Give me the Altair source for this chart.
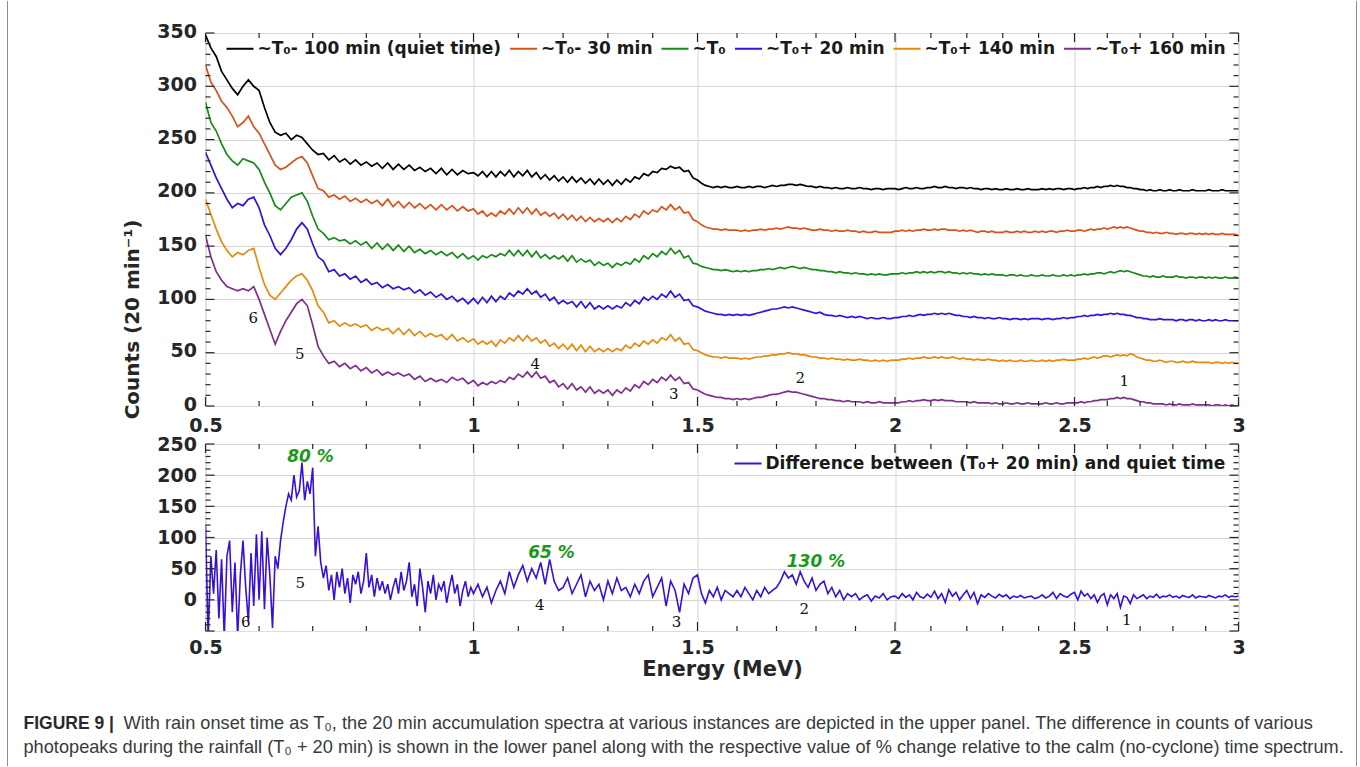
import altair as alt
import pandas as pd

# ---------------- data ----------------
energy = [round(0.50 + 0.01 * i, 2) for i in range(251)]

quiet = [
 348, 336, 328, 314, 306, 298, 292, 300, 306, 300,
 296, 280, 266, 257, 254, 256, 250, 254, 252, 246,
 240, 236, 237, 231, 235, 229, 232, 227, 231, 226,
 229, 225, 228, 223, 228, 222, 227, 222, 226, 221,
 224, 220, 223, 218, 223, 217, 222, 217, 221, 218,
 219, 216, 220, 215, 220, 215, 220, 216, 221, 215,
 220, 216, 221, 215, 219, 213, 217, 212, 216, 211,
 215, 210, 215, 210, 214, 209, 213, 208, 213, 208,
 212, 207, 212, 208, 213, 210, 215, 213, 218, 216,
 220, 219, 223, 222, 225, 223, 224, 220, 221, 214,
 212, 209, 207, 206, 205, 206, 205, 206, 205, 205,
 206, 205, 205, 206, 205, 206, 206, 205, 206, 207,
 206, 207, 207, 208, 208, 207, 208, 207, 206, 206,
 205, 206, 205, 205, 204, 205, 204, 204, 205, 204,
 204, 205, 204, 204, 203, 204, 204, 203, 204, 204,
 204, 203, 204, 205, 204, 204, 205, 204, 204, 205,
 205, 206, 205, 205, 206, 205, 205, 204, 205, 205,
 204, 205, 204, 204, 203, 204, 204, 203, 204, 203,
 203, 204, 203, 203, 204, 203, 203, 204, 203, 203,
 203, 204, 203, 204, 203, 204, 204, 203, 204, 204,
 203, 204, 204, 205, 204, 205, 205, 206, 205, 206,
 206, 207, 206, 207, 206, 206, 205, 205, 204, 204,
 203, 203, 202, 203, 202, 202, 203, 202, 202, 203,
 202, 202, 203, 202, 202, 202, 203, 202, 202, 202,
 202, 203, 202, 202, 202, 203, 202, 202, 202, 202, 202]

t_minus30 = [
 320, 304, 296, 286, 280, 272, 262, 266, 272, 262,
 256, 246, 236, 226, 222, 224, 228, 232, 234, 228,
 216, 204, 202, 196, 198, 194, 197, 192, 195, 191,
 194, 190, 193, 188, 194, 187, 192, 186, 191, 186,
 190, 185, 189, 184, 189, 184, 188, 183, 187, 183,
 185, 180, 183, 178, 181, 178, 183, 180, 185, 180,
 186, 181, 186, 180, 185, 179, 182, 178, 181, 176,
 180, 175, 179, 174, 178, 173, 177, 173, 176, 173,
 176, 172, 176, 173, 178, 175, 180, 177, 183, 180,
 184, 182, 187, 184, 189, 184, 187, 181, 182, 175,
 173, 170, 168, 167, 166, 166, 165, 166, 165, 165,
 165, 164, 165, 164, 165, 165, 166, 165, 166, 166,
 167, 166, 167, 168, 167, 167, 166, 167, 166, 165,
 165, 166, 165, 165, 164, 165, 164, 164, 165, 164,
 164, 163, 164, 163, 163, 164, 163, 163, 163, 163,
 164, 164, 165, 164, 165, 164, 165, 165, 166, 165,
 165, 166, 165, 166, 166, 165, 165, 165, 164, 165,
 164, 165, 164, 163, 164, 164, 163, 164, 163, 163,
 163, 164, 163, 163, 164, 163, 164, 163, 163, 164,
 163, 164, 163, 164, 164, 163, 164, 164, 165, 164,
 164, 165, 165, 164, 165, 166, 165, 166, 166, 167,
 166, 167, 168, 167, 168, 167, 168, 167, 166, 165,
 164, 164, 163, 163, 162, 163, 162, 162, 163, 162,
 162, 161, 162, 162, 161, 162, 162, 161, 162, 161,
 162, 161, 162, 161, 161, 162, 161, 161, 161, 161, 160]

t_zero = [
 285, 266, 258, 246, 236, 230, 226, 232, 230, 228,
 222, 210, 200, 188, 184, 190, 196, 198, 200, 192,
 178, 166, 162, 156, 158, 155, 156, 152, 155, 151,
 154, 148, 153, 147, 152, 146, 151, 145, 150, 144,
 147, 143, 146, 142, 145, 141, 144, 139, 143, 138,
 141, 137, 141, 139, 142, 140, 143, 141, 146, 141,
 146, 141, 146, 140, 145, 139, 142, 138, 141, 138,
 141, 136, 141, 135, 138, 135, 137, 132, 135, 132,
 134, 130, 134, 132, 135, 133, 138, 135, 141, 138,
 143, 140, 145, 142, 148, 143, 146, 139, 141, 134,
 133, 131, 130, 129, 128, 128, 127, 128, 127, 126,
 127, 126, 127, 126, 127, 127, 128, 128, 129, 128,
 129, 130, 129, 130, 131, 130, 129, 130, 129, 128,
 128, 127, 127, 126, 126, 125, 126, 125, 125, 124,
 125, 124, 124, 123, 124, 123, 124, 123, 123, 124,
 124, 124, 125, 124, 125, 125, 126, 125, 126, 125,
 126, 125, 126, 126, 125, 126, 125, 125, 124, 125,
 124, 125, 124, 124, 123, 124, 123, 124, 123, 123,
 123, 122, 123, 123, 122, 123, 122, 122, 123, 122,
 122, 123, 122, 122, 123, 122, 122, 123, 122, 123,
 122, 123, 123, 124, 123, 124, 124, 125, 125, 124,
 125, 126, 125, 126, 127, 126, 127, 126, 125, 124,
 123, 122, 122, 121, 122, 121, 121, 122, 121, 121,
 121, 122, 121, 121, 120, 121, 121, 120, 121, 121,
 120, 121, 120, 121, 120, 120, 121, 120, 120, 121, 120]

t_plus20 = [
 238, 226, 214, 204, 194, 186, 190, 188, 194, 196,
 186, 170, 160, 148, 142, 148, 156, 166, 172, 166,
 152, 140, 136, 126, 128, 122, 124, 119, 122, 116,
 119, 114, 116, 111, 114, 110, 112, 109, 111, 106,
 109, 104, 107, 102, 105, 100, 103, 98, 101, 96,
 101, 96, 102, 97, 103, 98, 103, 100, 106, 103,
 108, 105, 110, 105, 108, 102, 105, 99, 102, 96,
 99, 96, 98, 93, 98, 92, 97, 91, 94, 91,
 94, 91, 94, 92, 97, 94, 99, 96, 102, 99,
 103, 100, 105, 102, 108, 102, 105, 99, 100, 94,
 93, 91, 89, 88, 87, 86, 86, 85, 86, 85,
 86, 85, 86, 85, 86, 87, 88, 89, 90, 91,
 91, 92, 93, 92, 93, 92, 91, 90, 89, 88,
 87, 88, 86, 85, 85, 84, 85, 84, 83, 84,
 83, 84, 83, 82, 83, 82, 82, 83, 82, 82,
 83, 83, 84, 84, 85, 84, 85, 86, 85, 86,
 86, 87, 86, 87, 86, 87, 86, 85, 85, 84,
 84, 83, 84, 83, 83, 82, 83, 82, 82, 83,
 82, 82, 81, 82, 82, 81, 82, 81, 82, 82,
 82, 81, 82, 82, 81, 82, 82, 83, 82, 83,
 83, 84, 84, 85, 84, 85, 85, 86, 85, 86,
 86, 87, 86, 87, 86, 86, 85, 85, 84, 83,
 83, 82, 82, 81, 81, 81, 82, 81, 81, 81,
 81, 80, 81, 81, 80, 81, 81, 80, 81, 80,
 80, 81, 80, 81, 80, 80, 81, 80, 80, 80, 80]

t_plus140 = [
 194, 180, 166, 154, 146, 140, 144, 142, 146, 148,
 130, 114, 104, 100, 106, 112, 118, 122, 124, 118,
 108, 94, 88, 78, 80, 75, 78, 75, 77, 74,
 76, 71, 74, 71, 73, 68, 73, 67, 72, 66,
 70, 65, 68, 65, 67, 62, 67, 61, 64, 60,
 63, 58, 61, 58, 61, 56, 62, 59, 64, 61,
 66, 61, 66, 61, 64, 59, 62, 56, 59, 54,
 58, 53, 58, 52, 57, 51, 56, 51, 54, 51,
 54, 51, 54, 52, 57, 54, 59, 56, 61, 58,
 62, 59, 64, 62, 67, 61, 64, 58, 59, 53,
 52, 50, 48, 47, 46, 46, 45, 46, 45, 45,
 45, 44, 45, 44, 45, 46, 46, 47, 47, 48,
 48, 49, 49, 50, 49, 49, 48, 48, 47, 46,
 46, 45, 45, 44, 45, 44, 44, 43, 44, 43,
 43, 44, 43, 43, 42, 43, 42, 43, 42, 43,
 43, 43, 44, 44, 45, 44, 45, 45, 46, 45,
 45, 46, 45, 46, 45, 45, 46, 45, 44, 45,
 44, 44, 43, 44, 43, 43, 44, 43, 43, 42,
 43, 42, 43, 42, 42, 43, 42, 42, 43, 42,
 42, 43, 42, 43, 42, 43, 43, 44, 43, 43,
 43, 44, 44, 45, 44, 45, 46, 45, 46, 47,
 47, 46, 47, 48, 47, 48, 47, 49, 48, 46,
 45, 44, 43, 43, 42, 42, 43, 42, 41, 42,
 42, 41, 41, 42, 41, 41, 42, 41, 41, 41,
 41, 41, 40, 41, 41, 40, 41, 40, 41, 40, 40]

t_plus160 = [
 160, 140, 126, 118, 112, 110, 108, 110, 108, 112,
 100, 86, 72, 58, 70, 80, 88, 96, 100, 94,
 76, 56, 47, 40, 42, 37, 40, 35, 38, 33,
 36, 31, 34, 29, 32, 29, 31, 28, 30, 25,
 28, 23, 26, 23, 25, 22, 27, 24, 26, 21,
 24, 19, 22, 20, 23, 21, 24, 22, 27, 25,
 30, 27, 32, 27, 32, 26, 28, 22, 24, 18,
 21, 16, 21, 15, 18, 13, 18, 12, 15, 12,
 15, 10, 15, 12, 17, 14, 20, 17, 23, 20,
 25, 22, 27, 24, 29, 24, 27, 21, 22, 16,
 15, 13, 11, 10, 9, 8, 8, 7, 7, 6,
 7, 6, 7, 6, 7, 8, 8, 9, 10, 11,
 11, 12, 13, 14, 13, 13, 12, 11, 10, 9,
 8, 7, 7, 6, 6, 5, 5, 4, 5, 4,
 4, 4, 3, 4, 3, 3, 4, 3, 3, 3,
 3, 3, 4, 4, 5, 4, 5, 5, 6, 5,
 5, 6, 5, 6, 5, 5, 5, 4, 4, 4,
 4, 3, 4, 3, 3, 3, 3, 2, 3, 2,
 2, 3, 2, 2, 3, 2, 2, 3, 2, 2,
 2, 2, 3, 2, 2, 3, 2, 2, 3, 3,
 3, 3, 4, 3, 4, 4, 5, 5, 6, 6,
 6, 7, 7, 8, 7, 8, 7, 7, 6, 5,
 4, 4, 3, 3, 2, 2, 2, 2, 1, 2,
 1, 1, 2, 1, 1, 1, 2, 1, 1, 1,
 1, 1, 0, 1, 1, 0, 1, 0, 1, 0, 0]

diff_energy = ([round(0.500 + 0.005 * i, 3) for i in range(100)]
               + [round(1.00 + 0.01 * i, 2) for i in range(201)])

difference = [
 120, -60, 70, 10, 80, -30, 65, -60, 70, 95,
 -20, 60, -60, 40, 95, 20, -35, 75, -10, 105,
 0, 110, -15, 100, 40, -45, 70, 50, 95, 125,
 150, 170, 160, 200, 165, 175, 220, 160, 190, 170,
 212, 70, 118, 60, 35, 55, 15, 40, 0, 45,
 20, 50, 10, 35, -5, 40, 25, 45, 10, 30,
 75, 20, 40, 5, 35, 15, 30, 10, 25, 0,
 20, 35, 10, 45, 15, 30, 60, 5, 25, -10,
 50, 20, -20, 30, 10, 40, 0, 25, 15, 30,
 -5, 20, 40, 10, 25, -10, 15, 30, 5, 20,
 10, 25, 5, 20, -5, 15, 30, 10, 45, 20,
 40, 55, 30, 50, 35, 60, 25, 65, 30, 15,
 20, 35, 10, 25, 40, 5, 30, 15, 25, 0,
 30, 10, 35, 15, 20, 5, 25, 10, 30, 40,
 5, 20, 35, -10, 30, 15, -20, 25, 10, 35,
 40, 10, -5, 15, 5, 20, 0, 15, 10, 5,
 15, 5, 20, 10, 0, 15, 5, 20, 10, 15,
 20, 30, 45, 35, 40, 25, 45, 30, 20, 35,
 15, 25, 30, 10, 20, 5, 15, 0, 10, 5,
 10, 0, 5, 8, -2, 6, 3, 10, 0, 5,
 6, 2, 10, 4, 8, 0, 12, 5, 3, 9,
 4, 14, 2, 10, -4, 16, 6, 12, 0, 8,
 15, 2, 12, -6, 8, 4, 10, 6, 3, 9,
 5, 8, 2, 6, 4, 7, 3, 5, 6, 2,
 4, 8, 3, 6, 12, 2, 10, 6, 4, 9,
 12, 0, 14, 6, 10, 2, 8, -4, 6, 10,
 -8, 8, 2, 10, -12, 6, 4, -6, 8, 2,
 5, 8, 2, 6, 4, 9, 3, 6, 5, 8,
 4, 6, 3, 7, 5, 4, 8, 3, 6, 5,
 4, 7, 5, 3, 6, 5, 8, 4, 6, 5, 6]

series_names = ["~T\u2080- 100 min (quiet time)", "~T\u2080- 30 min", "~T\u2080",
                "~T\u2080+ 20 min", "~T\u2080+ 140 min", "~T\u2080+ 160 min"]
series_colors = ["#000000", "#d95319", "#178a17", "#3810d8", "#e8890c", "#7e2f8e"]
series_values = [quiet, t_minus30, t_zero, t_plus20, t_plus140, t_plus160]

diff_name = "Difference between (T\u2080+ 20 min) and quiet time"
diff_color = "#3810d8"

# photopeak markers
peak_labels = ["1", "2", "3", "4", "5", "6"]
peak_e_upper = [2.652, 1.76, 1.447, 1.138, 0.676, 0.589]
peak_y_upper = [23, 26, 11, 39, 49, 83]
peak_e_lower = [2.659, 1.77, 1.453, 1.148, 0.677, 0.575]
peak_y_lower = [-32, -14, -35, -8, 27, -35]

pct_labels = ["80 %", "65 %", "130 %"]
pct_e = [0.696, 1.174, 1.80]
pct_y = [229, 75, 61]

# axis ticks
x_major = [0.5, 1.0, 1.5, 2.0, 2.5, 3.0]
x_minor = [0.6, 0.7, 0.8, 0.9, 1.1, 1.2, 1.3, 1.4, 1.6, 1.7, 1.8, 1.9,
           2.1, 2.2, 2.3, 2.4, 2.6, 2.7, 2.8, 2.9]
up_y_major = [0, 50, 100, 150, 200, 250, 300, 350]
up_y_minor = [10, 20, 30, 40, 60, 70, 80, 90, 110, 120, 130, 140, 160, 170, 180, 190,
              210, 220, 230, 240, 260, 270, 280, 290, 310, 320, 330, 340]
lo_y_labels = [0, 50, 100, 150, 200, 250]
lo_y_major = [-50, 0, 50, 100, 150, 200, 250]
lo_y_minor = [-40, -30, -20, -10, 10, 20, 30, 40, 60, 70, 80, 90, 110, 120, 130, 140,
              160, 170, 180, 190, 210, 220, 230, 240]

caption_bold = "FIGURE 9 |"
caption_line1 = ("With rain onset time as T\u2080, the 20 min accumulation spectra at various instances "
                 "are depicted in the upper panel. The difference in counts of various")
caption_line2 = ("photopeaks during the rainfall (T\u2080 + 20 min) is shown in the lower panel along with "
                 "the respective value of % change relative to the calm (no-cyclone) time spectrum.")

# ---------------- build frames ----------------
rows = []
for name, vals in zip(series_names, series_values):
    assert len(vals) == len(energy), (name, len(vals))
    for e, v in zip(energy, vals):
        rows.append({"E": e, "counts": v, "series": name})
upper_df = pd.DataFrame(rows)

assert len(difference) == len(diff_energy), len(difference)
lower_df = pd.DataFrame({"E": diff_energy, "counts": difference, "series": diff_name})

# ---------------- styling ----------------
W_UP, H_UP = 1033, 373
W_LO, H_LO = 1033, 187
AX = "#262626"
GRID = "#d6d6d6"
FONT = "DejaVu Sans"

xscale = alt.Scale(domain=x_major, range=[0, 268, 492, 689.5, 869, 1033])


def x_axis(title, pad):
    kw = dict(values=x_major, format="~g", grid=True, gridColor=GRID, gridWidth=1,
              ticks=False, domain=False, labelFlush=False, labelOverlap=False,
              labelPadding=pad, labelFont=FONT, labelFontSize=19, labelFontWeight="bold",
              labelColor=AX)
    if title:
        kw.update(title=title, titleFont=FONT, titleFontSize=21, titleFontWeight="bold",
                  titleColor=AX, titlePadding=1)
    else:
        kw.update(title=None)
    return alt.Axis(**kw)


ax_y_up = alt.Axis(values=up_y_major, grid=True, gridColor=GRID, gridWidth=1, ticks=False,
                   domain=False, labelPadding=9, labelOffset=-2, labelFont=FONT, labelFontSize=19,
                   labelFontWeight="bold", labelColor=AX, labelOverlap=False,
                   title="Counts (20 min\u207b\u00b9)", titleFont=FONT, titleFontSize=20,
                   titleFontWeight="bold", titleColor=AX, titleX=-73, titleY=286,
                   titleAngle=270, titleAlign="center", titleBaseline="middle")
ax_y_lo = alt.Axis(values=lo_y_labels, grid=True, gridColor=GRID, gridWidth=1, ticks=False,
                   domain=False, labelPadding=9, labelFont=FONT, labelFontSize=19,
                   labelFontWeight="bold", labelColor=AX, labelOverlap=False, title=None)

x_up = alt.X("E:Q", scale=xscale, axis=x_axis(None, 10))
x_lo = alt.X("E:Q", scale=xscale, axis=x_axis("Energy (MeV)", 7))
y_up = alt.Y("counts:Q", scale=alt.Scale(domain=[0, 350], nice=False, zero=False), axis=ax_y_up)
y_lo = alt.Y("counts:Q", scale=alt.Scale(domain=[-50, 250], nice=False, zero=False), axis=ax_y_lo)


def tick_layers(xe, ye, ymaj, ymin, W, H):
    out = []
    for vals, L in [(x_major, 9), (x_minor, 5)]:
        d = pd.DataFrame({"E": vals})
        out.append(alt.Chart(d).mark_rule(color=AX, strokeWidth=1.2).encode(
            x=xe, y=alt.value(H), y2=alt.value(H - L)))
        out.append(alt.Chart(d).mark_rule(color=AX, strokeWidth=1.2).encode(
            x=xe, y=alt.value(0), y2=alt.value(L)))
    for vals, L in [(ymaj, 9), (ymin, 5)]:
        d = pd.DataFrame({"counts": vals})
        out.append(alt.Chart(d).mark_rule(color=AX, strokeWidth=1.2).encode(
            y=ye, x=alt.value(0), x2=alt.value(L)))
        out.append(alt.Chart(d).mark_rule(color=AX, strokeWidth=1.2).encode(
            y=ye, x=alt.value(W), x2=alt.value(W - L)))
    return out


legend_common = dict(title=None, symbolType="stroke", symbolSize=729, symbolStrokeWidth=2,
                     labelFont=FONT, labelFontWeight="bold", labelFontSize=17,
                     labelColor="#1a1a1a", labelOffset=3, labelLimit=0, padding=0,
                     direction="horizontal", orient="none")

upper_lines = alt.Chart(upper_df).mark_line(strokeWidth=1.7, clip=True).encode(
    x=x_up, y=y_up,
    color=alt.Color("series:N", scale=alt.Scale(domain=series_names, range=series_colors),
                    legend=alt.Legend(legendX=20, legendY=1, columnPadding=4.5,
                                      **legend_common)))

upper_nums = alt.Chart(pd.DataFrame({"E": peak_e_upper, "counts": peak_y_upper,
                                     "label": peak_labels})).mark_text(
    font="DejaVu Serif", fontSize=15, color="#111111").encode(x=x_up, y=y_up, text="label:N")

upper = alt.layer(upper_lines, *tick_layers(x_up, y_up, up_y_major, up_y_minor, W_UP, H_UP),
                  upper_nums).properties(width=W_UP, height=H_UP)

lower_line = alt.Chart(lower_df).mark_line(strokeWidth=1.6, clip=True).encode(
    x=x_lo, y=y_lo,
    color=alt.Color("series:N", scale=alt.Scale(domain=[diff_name], range=[diff_color]),
                    legend=alt.Legend(legendX=528, legendY=5, **legend_common)))

lower_nums = alt.Chart(pd.DataFrame({"E": peak_e_lower, "counts": peak_y_lower,
                                     "label": peak_labels})).mark_text(
    font="DejaVu Serif", fontSize=15, color="#111111").encode(x=x_lo, y=y_lo, text="label:N")

lower_pct = alt.Chart(pd.DataFrame({"E": pct_e, "counts": pct_y, "label": pct_labels})).mark_text(
    font=FONT, fontSize=17, fontWeight="bold", fontStyle="italic", color="#1a9a1a").encode(
    x=x_lo, y=y_lo, text="label:N")

cap_df = pd.DataFrame({"b": [caption_bold], "l1": [caption_line1], "l2": [caption_line2]})
cap_bold = alt.Chart(cap_df).mark_text(align="left", baseline="middle", font="Liberation Sans",
                                       fontSize=17.5, fontWeight="bold", color="#2a2a2a").encode(
    x=alt.value(-182), y=alt.value(280), text="b:N")
cap_l1 = alt.Chart(cap_df).mark_text(align="left", baseline="middle", font="Liberation Sans",
                                     fontSize=18.2, color="#3a3a3a").encode(
    x=alt.value(-82), y=alt.value(280), text="l1:N")
cap_l2 = alt.Chart(cap_df).mark_text(align="left", baseline="middle", font="Liberation Sans",
                                     fontSize=18.2, color="#3a3a3a").encode(
    x=alt.value(-182), y=alt.value(304), text="l2:N")
border_l = alt.Chart(cap_df).mark_rule(color="#8c8c8c", strokeWidth=1).encode(
    x=alt.value(-198), y=alt.value(-443), y2=alt.value(322))
border_r = alt.Chart(cap_df).mark_rule(color="#8c8c8c", strokeWidth=1).encode(
    x=alt.value(1151), y=alt.value(-443), y2=alt.value(322))

lower = alt.layer(lower_line, *tick_layers(x_lo, y_lo, lo_y_major, lo_y_minor, W_LO, H_LO),
                  lower_nums, lower_pct, cap_bold, cap_l1, cap_l2, border_l, border_r
                  ).properties(width=W_LO, height=H_LO)

chart = alt.vconcat(upper, lower, spacing=38, bounds="flush").resolve_scale(
    y="independent", color="independent").resolve_legend(color="independent").properties(
    padding={"left": 6.5, "top": 0, "right": 2.5, "bottom": 0}
).configure_view(stroke=AX, strokeWidth=1.5).configure(background="white")

chart.save("out.html", embed_options={"renderer": "svg", "actions": False})
